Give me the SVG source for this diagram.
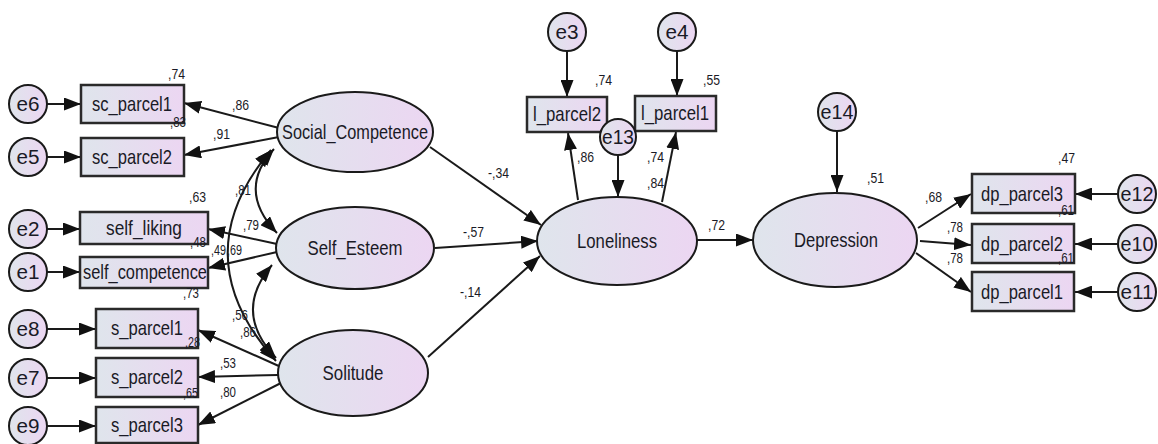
<svg xmlns="http://www.w3.org/2000/svg" width="1158" height="444" viewBox="0 0 1158 444">
  <style>
    .shape { fill: url(#fillGrad); stroke: #1a1a1a; stroke-width: 2; }
    .box { fill: url(#fillGrad); stroke: #2a2a2a; stroke-width: 2.5; }
    .name { font-family: "Liberation Sans", Arial, sans-serif; font-size: 21px; fill: #1a1a26; text-anchor: middle; }
    .err { font-family: "Liberation Sans", Arial, sans-serif; font-size: 20px; fill: #1a1a26; text-anchor: middle; }
    .coef { font-family: "Liberation Sans", Arial, sans-serif; font-size: 14.5px; fill: #1a1a26; }
    .link { fill: none; stroke: #1a1a1a; stroke-width: 2; marker-end: url(#head); }
    .cov { fill: none; stroke: #1a1a1a; stroke-width: 2; marker-start: url(#headStart); marker-end: url(#head); }
  </style>
  <defs>
    <linearGradient id="fillGrad" x1="0" y1="0" x2="1" y2="0">
      <stop offset="0" stop-color="#dfe5ec"/>
      <stop offset="1" stop-color="#ecd6f2"/>
    </linearGradient>
    <marker id="head" markerUnits="userSpaceOnUse" markerWidth="17" markerHeight="13" refX="17" refY="6.5" orient="auto">
      <path d="M0,0 L17,6.5 L0,13 z" fill="#111"/>
    </marker>
    <marker id="headStart" markerUnits="userSpaceOnUse" markerWidth="17" markerHeight="13" refX="0" refY="6.5" orient="auto">
      <path d="M17,0 L0,6.5 L17,13 z" fill="#111"/>
    </marker>
  </defs>

  <rect width="1158" height="444" fill="#ffffff"/>

  <!-- paths, loadings and covariances -->
  <g id="connectors">
    <!-- error terms into indicators -->
    <line class="link" x1="47" y1="104" x2="81" y2="104"/>
    <line class="link" x1="47" y1="157" x2="81" y2="157"/>
    <line class="link" x1="47" y1="229" x2="80" y2="229"/>
    <line class="link" x1="47" y1="272" x2="80" y2="272"/>
    <line class="link" x1="47" y1="329" x2="96" y2="329"/>
    <line class="link" x1="47" y1="378" x2="96" y2="378"/>
    <line class="link" x1="47" y1="426" x2="96" y2="426"/>
    <!-- loadings of the predictors -->
    <line class="link" x1="279" y1="128" x2="184" y2="103"/>
    <line class="link" x1="279" y1="137" x2="184" y2="155"/>
    <line class="link" x1="277" y1="244" x2="208" y2="229"/>
    <line class="link" x1="277" y1="252" x2="208" y2="268"/>
    <line class="link" x1="281" y1="367" x2="198" y2="330"/>
    <line class="link" x1="278" y1="375" x2="198" y2="377"/>
    <line class="link" x1="281" y1="383" x2="198" y2="425"/>
    <!-- covariances between predictors -->
    <path class="cov" d="M274 149 Q236 190 277 233"/>
    <path class="cov" d="M271 150 Q182 256 276 361"/>
    <path class="cov" d="M272 265 Q232 312 276 358"/>
    <!-- structural paths -->
    <line class="link" x1="430" y1="147" x2="541" y2="225"/>
    <line class="link" x1="435" y1="248" x2="538" y2="241"/>
    <line class="link" x1="428" y1="357" x2="540" y2="256"/>
    <line class="link" x1="697" y1="240" x2="753" y2="240"/>
    <!-- Loneliness indicators -->
    <line class="link" x1="578" y1="200" x2="568" y2="133"/>
    <line class="link" x1="662" y1="202" x2="676" y2="132"/>
    <line class="link" x1="567" y1="51" x2="567" y2="97"/>
    <line class="link" x1="677" y1="51" x2="677" y2="96"/>
    <line class="link" x1="618" y1="155" x2="618" y2="197"/>
    <!-- Depression -->
    <line class="link" x1="837" y1="131" x2="837" y2="192"/>
    <line class="link" x1="918" y1="228" x2="971" y2="194"/>
    <line class="link" x1="920" y1="241" x2="971" y2="245"/>
    <line class="link" x1="916" y1="253" x2="971" y2="292"/>
    <line class="link" x1="1118" y1="194" x2="1075" y2="194"/>
    <line class="link" x1="1118" y1="244" x2="1075" y2="244"/>
    <line class="link" x1="1118" y1="292" x2="1075" y2="292"/>
  </g>

  <!-- latent variables -->
  <g id="social_competence"><ellipse class="shape" cx="355" cy="132" rx="78" ry="40"/><text class="name" x="355" y="139" textLength="146" lengthAdjust="spacingAndGlyphs">Social_Competence</text></g>
  <g id="self_esteem"><ellipse class="shape" cx="355" cy="248" rx="79" ry="41"/><text class="name" x="355" y="255" textLength="95" lengthAdjust="spacingAndGlyphs">Self_Esteem</text></g>
  <g id="solitude"><ellipse class="shape" cx="353" cy="373" rx="75" ry="43"/><text class="name" x="353" y="380" textLength="61" lengthAdjust="spacingAndGlyphs">Solitude</text></g>
  <g id="loneliness"><ellipse class="shape" cx="617" cy="241" rx="80" ry="44"/><text class="name" x="617" y="248" textLength="80" lengthAdjust="spacingAndGlyphs">Loneliness</text></g>
  <g id="depression"><ellipse class="shape" cx="835" cy="240" rx="82" ry="47"/><text class="name" x="836" y="247" textLength="84" lengthAdjust="spacingAndGlyphs">Depression</text></g>

  <!-- observed indicators -->
  <g id="sc_parcel1"><rect class="box" x="81" y="85" width="103" height="38"/><text class="name" x="132" y="111" textLength="80" lengthAdjust="spacingAndGlyphs">sc_parcel1</text></g>
  <g id="sc_parcel2"><rect class="box" x="81" y="138" width="103" height="38"/><text class="name" x="132" y="164" textLength="80" lengthAdjust="spacingAndGlyphs">sc_parcel2</text></g>
  <g id="self_liking"><rect class="box" x="80" y="212" width="128" height="32"/><text class="name" x="144" y="235" textLength="76" lengthAdjust="spacingAndGlyphs">self_liking</text></g>
  <g id="self_competence"><rect class="box" x="80" y="257" width="128" height="31"/><text class="name" x="145" y="279" textLength="124" lengthAdjust="spacingAndGlyphs">self_competence</text></g>
  <g id="s_parcel1"><rect class="box" x="96" y="309" width="102" height="39"/><text class="name" x="147" y="335" textLength="72" lengthAdjust="spacingAndGlyphs">s_parcel1</text></g>
  <g id="s_parcel2"><rect class="box" x="96" y="358" width="102" height="39"/><text class="name" x="147" y="384" textLength="72" lengthAdjust="spacingAndGlyphs">s_parcel2</text></g>
  <g id="s_parcel3"><rect class="box" x="96" y="407" width="102" height="36"/><text class="name" x="147" y="432" textLength="72" lengthAdjust="spacingAndGlyphs">s_parcel3</text></g>
  <g id="l_parcel2"><rect class="box" x="527" y="97" width="80" height="35"/><text class="name" x="567" y="121" textLength="68" lengthAdjust="spacingAndGlyphs">l_parcel2</text></g>
  <g id="l_parcel1"><rect class="box" x="635" y="96" width="81" height="35"/><text class="name" x="675" y="120" textLength="68" lengthAdjust="spacingAndGlyphs">l_parcel1</text></g>
  <g id="dp_parcel3"><rect class="box" x="972" y="174" width="103" height="39"/><text class="name" x="1022" y="201" textLength="82" lengthAdjust="spacingAndGlyphs">dp_parcel3</text></g>
  <g id="dp_parcel2"><rect class="box" x="972" y="224" width="102" height="39"/><text class="name" x="1022" y="251" textLength="82" lengthAdjust="spacingAndGlyphs">dp_parcel2</text></g>
  <g id="dp_parcel1"><rect class="box" x="972" y="272" width="102" height="39"/><text class="name" x="1022" y="299" textLength="82" lengthAdjust="spacingAndGlyphs">dp_parcel1</text></g>

  <!-- error terms -->
  <g id="e6"><circle class="shape" cx="28" cy="104" r="19"/><text class="err" x="28" y="111" textLength="23" lengthAdjust="spacingAndGlyphs">e6</text></g>
  <g id="e5"><circle class="shape" cx="28" cy="157" r="19"/><text class="err" x="28" y="164" textLength="23" lengthAdjust="spacingAndGlyphs">e5</text></g>
  <g id="e2"><circle class="shape" cx="28" cy="229" r="19"/><text class="err" x="28" y="236" textLength="23" lengthAdjust="spacingAndGlyphs">e2</text></g>
  <g id="e1"><circle class="shape" cx="28" cy="272" r="19"/><text class="err" x="28" y="279" textLength="23" lengthAdjust="spacingAndGlyphs">e1</text></g>
  <g id="e8"><circle class="shape" cx="28" cy="329" r="19"/><text class="err" x="28" y="336" textLength="23" lengthAdjust="spacingAndGlyphs">e8</text></g>
  <g id="e7"><circle class="shape" cx="28" cy="378" r="19"/><text class="err" x="28" y="385" textLength="23" lengthAdjust="spacingAndGlyphs">e7</text></g>
  <g id="e9"><circle class="shape" cx="28" cy="426" r="19"/><text class="err" x="28" y="433" textLength="23" lengthAdjust="spacingAndGlyphs">e9</text></g>
  <g id="e3"><circle class="shape" cx="567" cy="32" r="19"/><text class="err" x="567" y="39" textLength="23" lengthAdjust="spacingAndGlyphs">e3</text></g>
  <g id="e4"><circle class="shape" cx="677" cy="32" r="19"/><text class="err" x="677" y="39" textLength="23" lengthAdjust="spacingAndGlyphs">e4</text></g>
  <g id="e13"><circle class="shape" cx="618" cy="137" r="18"/><text class="err" x="618" y="144" textLength="32" lengthAdjust="spacingAndGlyphs">e13</text></g>
  <g id="e14"><circle class="shape" cx="837" cy="112" r="19"/><text class="err" x="837" y="119" textLength="33" lengthAdjust="spacingAndGlyphs">e14</text></g>
  <g id="e12"><circle class="shape" cx="1137" cy="194" r="19"/><text class="err" x="1137" y="201" textLength="33" lengthAdjust="spacingAndGlyphs">e12</text></g>
  <g id="e10"><circle class="shape" cx="1137" cy="244" r="19"/><text class="err" x="1137" y="251" textLength="33" lengthAdjust="spacingAndGlyphs">e10</text></g>
  <g id="e11"><circle class="shape" cx="1137" cy="292" r="19"/><text class="err" x="1137" y="299" textLength="33" lengthAdjust="spacingAndGlyphs">e11</text></g>

  <!-- standardized estimates -->
  <g id="estimates">
    <text class="coef" x="168" y="79" textLength="17" lengthAdjust="spacingAndGlyphs">,74</text>
    <text class="coef" x="232" y="110" textLength="17" lengthAdjust="spacingAndGlyphs">,86</text>
    <text class="coef" x="170" y="127" textLength="16" lengthAdjust="spacingAndGlyphs">,83</text>
    <text class="coef" x="213" y="139" textLength="17" lengthAdjust="spacingAndGlyphs">,91</text>
    <text class="coef" x="189" y="202" textLength="17" lengthAdjust="spacingAndGlyphs">,63</text>
    <text class="coef" x="235" y="195" textLength="16" lengthAdjust="spacingAndGlyphs">,81</text>
    <text class="coef" x="243" y="230" textLength="16" lengthAdjust="spacingAndGlyphs">,79</text>
    <text class="coef" x="190" y="247" textLength="16" lengthAdjust="spacingAndGlyphs">,48</text>
    <text class="coef" x="211" y="255" textLength="15" lengthAdjust="spacingAndGlyphs">,49</text>
    <text class="coef" x="227" y="255" textLength="15" lengthAdjust="spacingAndGlyphs">,69</text>
    <text class="coef" x="183" y="298" textLength="16" lengthAdjust="spacingAndGlyphs">,73</text>
    <text class="coef" x="232" y="320" textLength="16" lengthAdjust="spacingAndGlyphs">,56</text>
    <text class="coef" x="240" y="337" textLength="16" lengthAdjust="spacingAndGlyphs">,86</text>
    <text class="coef" x="185" y="347" textLength="15" lengthAdjust="spacingAndGlyphs">,28</text>
    <text class="coef" x="220" y="368" textLength="16" lengthAdjust="spacingAndGlyphs">,53</text>
    <text class="coef" x="183" y="398" textLength="15" lengthAdjust="spacingAndGlyphs">,65</text>
    <text class="coef" x="220" y="397" textLength="16" lengthAdjust="spacingAndGlyphs">,80</text>
    <text class="coef" x="488" y="178" textLength="21" lengthAdjust="spacingAndGlyphs">-,34</text>
    <text class="coef" x="463" y="237" textLength="21" lengthAdjust="spacingAndGlyphs">-,57</text>
    <text class="coef" x="460" y="297" textLength="21" lengthAdjust="spacingAndGlyphs">-,14</text>
    <text class="coef" x="595" y="85" textLength="17" lengthAdjust="spacingAndGlyphs">,74</text>
    <text class="coef" x="703" y="85" textLength="17" lengthAdjust="spacingAndGlyphs">,55</text>
    <text class="coef" x="577" y="162" textLength="17" lengthAdjust="spacingAndGlyphs">,86</text>
    <text class="coef" x="647" y="162" textLength="17" lengthAdjust="spacingAndGlyphs">,74</text>
    <text class="coef" x="647" y="188" textLength="17" lengthAdjust="spacingAndGlyphs">,84</text>
    <text class="coef" x="708" y="230" textLength="17" lengthAdjust="spacingAndGlyphs">,72</text>
    <text class="coef" x="867" y="183" textLength="17" lengthAdjust="spacingAndGlyphs">,51</text>
    <text class="coef" x="1058" y="163" textLength="17" lengthAdjust="spacingAndGlyphs">,47</text>
    <text class="coef" x="925" y="202" textLength="17" lengthAdjust="spacingAndGlyphs">,68</text>
    <text class="coef" x="1058" y="215" textLength="16" lengthAdjust="spacingAndGlyphs">,61</text>
    <text class="coef" x="947" y="232" textLength="16" lengthAdjust="spacingAndGlyphs">,78</text>
    <text class="coef" x="1058" y="263" textLength="16" lengthAdjust="spacingAndGlyphs">,61</text>
    <text class="coef" x="947" y="263" textLength="16" lengthAdjust="spacingAndGlyphs">,78</text>
  </g>
</svg>
